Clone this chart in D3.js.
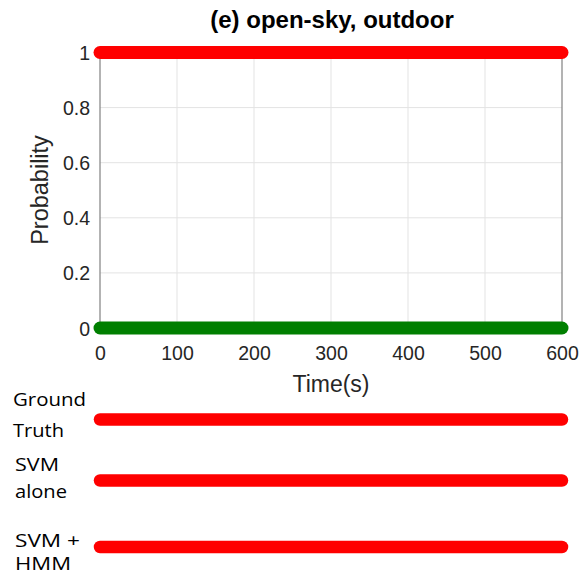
<!DOCTYPE html>
<html>
<head>
<meta charset="utf-8">
<script src="https://cdn.jsdelivr.net/npm/d3@7/dist/d3.min.js"></script>
<style>
  html, body { margin: 0; padding: 0; background: #fff; }
  svg { display: block; }
</style>
</head>
<body>
<svg id="chart" width="579" height="574"></svg>
<script>
// ---- data ----
const titleText = "(e) open-sky, outdoor";
const timeSeconds = [0, 100, 200, 300, 400, 500, 600];
const outdoorProbability = [1, 1, 1, 1, 1, 1, 1];
const indoorProbability = [0, 0, 0, 0, 0, 0, 0];
const xTicks = [0, 100, 200, 300, 400, 500, 600];
const yTicks = [0, 0.2, 0.4, 0.6, 0.8, 1];
const yTickLabels = ["0", "0.2", "0.4", "0.6", "0.8", "1"];
const stripNames = [["Ground", "Truth"], ["SVM", "alone"], ["SVM +", "HMM"]];
// each strip: segments [start, end, class]
const groundTruthSegments = [[0, 600, "outdoor"]];
const svmAloneSegments = [[0, 600, "outdoor"]];
const svmHmmSegments = [[0, 600, "outdoor"]];

(function () {
const svg = d3.select("#chart");
const mLeft = 100, mRight = 562, mTop = 52.5, mBottom = 328;
const x = d3.scaleLinear().domain([0, 600]).range([mLeft, mRight]);
const y = d3.scaleLinear().domain([0, 1]).range([mBottom, mTop]);
const axisColor = "#262626";
const classColor = { outdoor: "#ff0000", indoor: "#007f00" };

// grid
svg.append("g").selectAll("line").data(xTicks.slice(1, -1)).join("line")
  .attr("x1", d => x(d)).attr("x2", d => x(d)).attr("y1", mTop).attr("y2", mBottom)
  .attr("stroke", "#e3e3e3").attr("stroke-width", 1);
svg.append("g").selectAll("line").data(yTicks.slice(1, -1)).join("line")
  .attr("x1", mLeft).attr("x2", mRight).attr("y1", d => y(d)).attr("y2", d => y(d))
  .attr("stroke", "#e3e3e3").attr("stroke-width", 1);

// axes frame
const frame = svg.append("g").attr("stroke", "#808080").attr("stroke-width", 1.2);
frame.append("line").attr("x1", mLeft).attr("x2", mLeft).attr("y1", mTop).attr("y2", mBottom);
frame.append("line").attr("x1", mRight).attr("x2", mRight).attr("y1", mTop).attr("y2", mBottom);
frame.append("line").attr("x1", mLeft).attr("x2", mRight).attr("y1", mTop).attr("y2", mTop);
frame.append("line").attr("x1", mLeft).attr("x2", mRight).attr("y1", mBottom).attr("y2", mBottom);

// axes with d3
const xAxis = d3.axisBottom(x).tickValues(xTicks).tickSize(0).tickPadding(10).tickFormat(d3.format("d"));
const gx = svg.append("g").attr("transform", `translate(0,${mBottom + 8})`).call(xAxis);
gx.select(".domain").remove();
gx.selectAll("text").attr("font-family", "Liberation Sans, Arial, sans-serif")
  .attr("font-size", 19.5).attr("fill", axisColor);

const yAxis = d3.axisLeft(y).tickValues(yTicks).tickSize(0).tickPadding(10)
  .tickFormat((d, i) => yTickLabels[i]);
const gy = svg.append("g").attr("transform", `translate(${mLeft},0)`).call(yAxis);
gy.select(".domain").remove();
gy.selectAll("text").attr("font-family", "Liberation Sans, Arial, sans-serif")
  .attr("font-size", 19.5).attr("fill", axisColor).attr("dy", "0.36em");

// lines
const line = d3.line().x((d, i) => x(timeSeconds[i])).y(d => y(d));
svg.append("path").datum(indoorProbability).attr("d", line)
  .attr("fill", "none").attr("stroke", classColor.indoor).attr("stroke-width", 13)
  .attr("stroke-linecap", "round");
svg.append("path").datum(outdoorProbability).attr("d", line)
  .attr("fill", "none").attr("stroke", classColor.outdoor).attr("stroke-width", 13)
  .attr("stroke-linecap", "round");

// title and labels
svg.append("text").attr("x", 332).attr("y", 28).attr("text-anchor", "middle")
  .attr("font-family", "Liberation Sans, Arial, sans-serif").attr("font-weight", "bold")
  .attr("font-size", 24).attr("fill", "#000").text(titleText);
svg.append("text").attr("x", 331).attr("y", 392).attr("text-anchor", "middle")
  .attr("font-family", "Liberation Sans, Arial, sans-serif")
  .attr("font-size", 23).attr("fill", axisColor).text("Time(s)");
svg.append("text").attr("transform", "translate(48,190) rotate(-90)").attr("text-anchor", "middle")
  .attr("font-family", "Liberation Sans, Arial, sans-serif")
  .attr("font-size", 23.5).attr("fill", axisColor).text("Probability");

// strips
const strips = [groundTruthSegments, svmAloneSegments, svmHmmSegments];
const stripY = [419.5, 480.5, 547];
const labelPos = [
  [[13, 406, 73], [13, 437, 51]],
  [[15, 471, 44], [15, 498, 52]],
  [[15, 547, 65], [15, 570, 56]]
];
strips.forEach((segs, si) => {
  svg.append("g").selectAll("line").data(segs).join("line")
    .attr("x1", d => x(d[0])).attr("x2", d => x(d[1]))
    .attr("y1", stripY[si]).attr("y2", stripY[si])
    .attr("stroke", d => classColor[d[2]]).attr("stroke-width", 12.5)
    .attr("stroke-linecap", "round");
  stripNames[si].forEach((t, li) => {
    const p = labelPos[si][li];
    svg.append("text").attr("x", p[0]).attr("y", p[1])
      .attr("font-family", "Open Sans, Noto Sans, sans-serif")
      .attr("font-size", 18.5).attr("fill", "#000")
      .attr("textLength", p[2]).attr("lengthAdjust", "spacingAndGlyphs")
      .text(t);
  });
});
})();
</script>
</body>
</html>
